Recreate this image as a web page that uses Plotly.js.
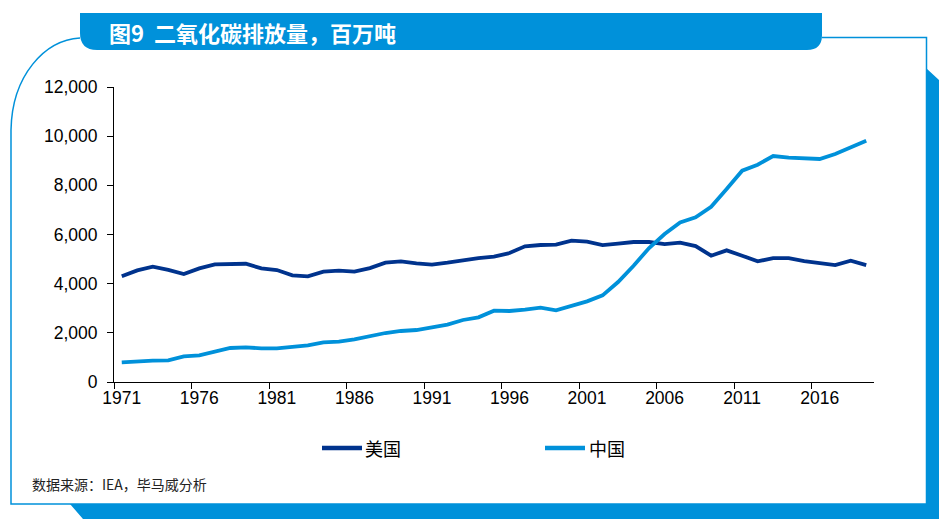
<!DOCTYPE html>
<html>
<head>
<meta charset="utf-8">
<script src="https://cdn.plot.ly/plotly-3.0.1.min.js"></script>
<style>html,body{margin:0;padding:0;background:#fff;}#chart{width:950px;height:526px;}</style>
</head>
<body>
<div id="chart"></div>
<script>
// ---- data ----
const years = [1971,1972,1973,1974,1975,1976,1977,1978,1979,1980,
  1981,1982,1983,1984,1985,1986,1987,1988,1989,1990,
  1991,1992,1993,1994,1995,1996,1997,1998,1999,2000,
  2001,2002,2003,2004,2005,2006,2007,2008,2009,2010,
  2011,2012,2013,2014,2015,2016,2017,2018,2019];
const usName = "美国";
const chinaName = "中国";
const usValues = [4300,4540,4690,4560,4390,4620,4785,4800,4810,4620,
  4556,4340,4296,4487,4527,4487,4635,4852,4906,4825,
  4771,4852,4960,5043,5097,5246,5517,5572,5585,5748,
  5707,5572,5626,5694,5694,5612,5667,5531,5138,5355,
  5138,4906,5043,5043,4920,4838,4757,4933,4757];
const chinaValues = [797,838,866,880,1043,1084,1233,1383,1410,1369,
  1369,1424,1492,1613,1640,1735,1871,1993,2075,2115,
  2223,2332,2522,2630,2900,2888,2941,3022,2914,3117,
  3280,3524,4068,4731,5451,6020,6493,6696,7131,7851,
  8595,8839,9193,9124,9096,9071,9275,9543,9816];
const yTickVals = [0,2000,4000,6000,8000,10000,12000];
const titleText = "图9  二氧化碳排放量，百万吨";
const sourceText = "数据来源：IEA，毕马威分析";

// ---- layout helpers ----
const W = 950, H = 526;
const M = {l:114, r:76, t:87, b:144};
const PW = W - M.l - M.r, PH = H - M.t - M.b;
const X = px => (px - M.l) / PW;
const Y = py => (H - M.b - py) / PH;
const P = (px, py) => X(px).toFixed(5) + "," + Y(py).toFixed(5);

const darkBlue = "#00338D";
const lightBlue = "#0091DA";

const cats = years.map(String);

const traces = [
  {x: cats, y: usValues, name: usName, type: "scatter", mode: "lines",
   line: {color: darkBlue, width: 3.8}, hoverinfo: "x+y+name"},
  {x: cats, y: chinaValues, name: chinaName, type: "scatter", mode: "lines",
   line: {color: lightBlue, width: 3.8}, hoverinfo: "x+y+name"}
];

const shapes = [
  // thin frame with curved top-left
  {type: "path", xref: "paper", yref: "paper",
   path: "M" + P(80,38) + " C" + P(45,40) + " " + P(12,75) + " " + P(11,130) +
         " L" + P(11,504) + " L" + P(926.5,504) + " L" + P(926.5,37.5) + " L" + P(822,37.5),
   line: {color: lightBlue, width: 1.5}, fillcolor: "rgba(0,0,0,0)"},
  // title bar
  {type: "path", xref: "paper", yref: "paper",
   path: "M" + P(80,13) + " L" + P(822,13) + " L" + P(822,35) + " Q" + P(822,50) + " " + P(807,50) +
         " L" + P(97,50) + " Q" + P(80,50) + " " + P(80,33) + " Z",
   line: {width: 0}, fillcolor: lightBlue},
  // thick shadow on right and bottom
  {type: "path", xref: "paper", yref: "paper",
   path: "M" + P(926,68) + " L" + P(939,80) + " L" + P(939,519) + " L" + P(83,519) +
         " L" + P(70,504) + " L" + P(926,504) + " Z",
   line: {width: 0}, fillcolor: lightBlue},
  // legend samples
  {type: "line", xref: "paper", yref: "paper", x0: X(322), x1: X(362), y0: Y(448), y1: Y(448),
   line: {color: darkBlue, width: 4.5}},
  {type: "line", xref: "paper", yref: "paper", x0: X(545), x1: X(585), y0: Y(448), y1: Y(448),
   line: {color: lightBlue, width: 4.5}}
];

const cjk = '"Noto Sans CJK SC", "Noto Sans", sans-serif';
const annotations = [
  {xref: "paper", yref: "paper", x: X(107), y: Y(32), xanchor: "left", yanchor: "middle",
   text: titleText, showarrow: false,
   font: {family: cjk, size: 22, color: "#ffffff", weight: 700}},
  {xref: "paper", yref: "paper", x: X(363), y: Y(448), xanchor: "left", yanchor: "middle",
   text: usName, showarrow: false, font: {family: cjk, size: 18, color: "#000"}},
  {xref: "paper", yref: "paper", x: X(587), y: Y(448), xanchor: "left", yanchor: "middle",
   text: chinaName, showarrow: false, font: {family: cjk, size: 18, color: "#000"}},
  {xref: "paper", yref: "paper", x: X(30), y: Y(484), xanchor: "left", yanchor: "middle",
   text: sourceText, showarrow: false, font: {family: cjk, size: 14, color: "#222"}}
];

const tickFont = {family: '"Liberation Sans", Arial, sans-serif', size: 17.5, color: "#000"};

const layout = {
  width: W, height: H,
  margin: M,
  paper_bgcolor: "#ffffff", plot_bgcolor: "#ffffff",
  showlegend: false,
  xaxis: {type: "category", range: [-0.5, 48.5], dtick: 5, tick0: 0,
    tickson: "boundaries", ticks: "outside", ticklen: 6, tickcolor: "#000", tickwidth: 1,
    showline: true, linecolor: "#000", linewidth: 1, showgrid: false, zeroline: false,
    tickfont: tickFont, tickangle: 0},
  yaxis: {range: [0, 12000], tickvals: yTickVals, tickformat: ",d",
    ticks: "outside", ticklen: 6, tickcolor: "#000", tickwidth: 1,
    showline: true, linecolor: "#000", linewidth: 1, showgrid: false, zeroline: false,
    tickfont: tickFont, ticklabelstandoff: 6},
  shapes: shapes,
  annotations: annotations
};

Plotly.newPlot("chart", traces, layout, {displayModeBar: false, staticPlot: true});
</script>
</body>
</html>
